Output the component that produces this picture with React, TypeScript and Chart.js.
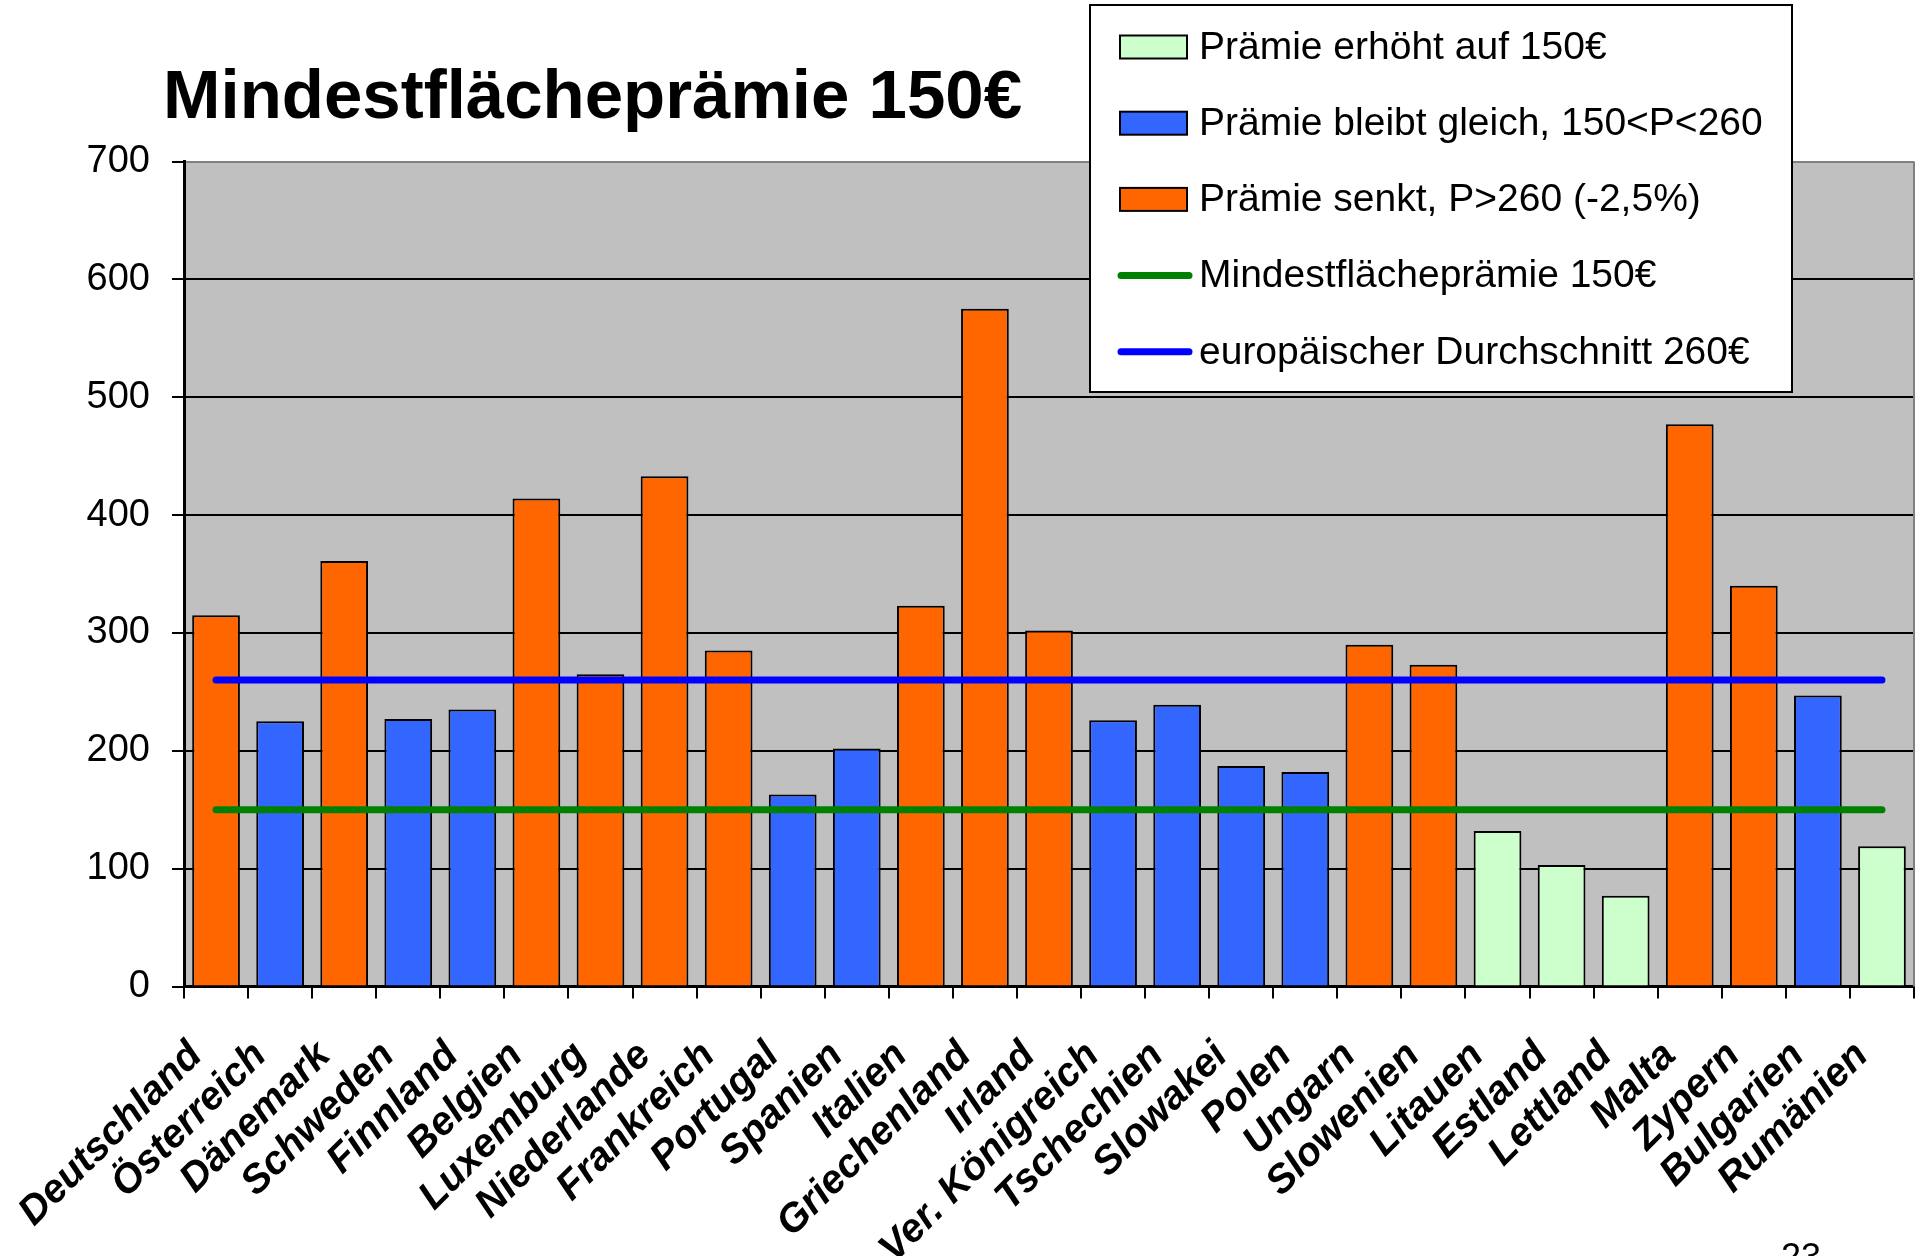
import { useEffect, useRef } from "react";
import { Chart, registerables } from "chart.js";

Chart.register(...registerables);

const TITLE = "Mindestflächeprämie 150€";
const PAGE_NUMBER = "23";

const COUNTRIES = [
  "Deutschland", "Österreich", "Dänemark", "Schweden", "Finnland", "Belgien",
  "Luxemburg", "Niederlande", "Frankreich", "Portugal", "Spanien", "Italien",
  "Griechenland", "Irland", "Ver. Königreich", "Tschechien", "Slowakei", "Polen",
  "Ungarn", "Slowenien", "Litauen", "Estland", "Lettland", "Malta", "Zypern",
  "Bulgarien", "Rumänien",
];

const PREMIUMS = [
  315, 225, 361, 227, 235, 414, 265, 433, 285, 163, 202, 323, 575, 302, 226,
  239, 187, 182, 290, 273, 132, 103, 77, 477, 340, 247, 119,
];

// 0 = Prämie erhöht, 1 = Prämie bleibt gleich, 2 = Prämie senkt
const GROUPS = [
  2, 1, 2, 1, 1, 2, 2, 2, 2, 1, 1, 2, 2, 2, 1, 1, 1, 1, 2, 2, 0, 0, 0, 2, 2, 1, 0,
];

const MIN_LINE = [
  150, 150, 150, 150, 150, 150, 150, 150, 150, 150, 150, 150, 150, 150, 150,
  150, 150, 150, 150, 150, 150, 150, 150, 150, 150, 150, 150,
];

const AVG_LINE = [
  260, 260, 260, 260, 260, 260, 260, 260, 260, 260, 260, 260, 260, 260, 260,
  260, 260, 260, 260, 260, 260, 260, 260, 260, 260, 260, 260,
];

const BAR_LABELS = [
  "Prämie erhöht auf 150€",
  "Prämie bleibt gleich, 150<P<260",
  "Prämie senkt, P>260 (-2,5%)",
];
const LINE_LABELS = ["Mindestflächeprämie 150€", "europäischer Durchschnitt 260€"];

const BAR_COLORS = ["#CCFFCC", "#3366FF", "#FF6600"];
const LINE_COLORS = ["#008000", "#0000FF"];

const Y_MIN = 0;
const Y_MAX = 700;
const Y_STEP = 100;

const FONT = "'Liberation Sans', Arial, Helvetica, sans-serif";

const decorPlugin = {
  id: "decor",
  beforeDraw(chart: any) {
    const { ctx, chartArea: a } = chart;
    ctx.save();
    ctx.fillStyle = "#FFFFFF";
    ctx.fillRect(0, 0, chart.width, chart.height);
    ctx.fillStyle = "#C0C0C0";
    ctx.fillRect(a.left, a.top, a.right - a.left, a.bottom - a.top);
    ctx.restore();
  },
  afterDraw(chart: any) {
    const { ctx, chartArea: a } = chart;
    ctx.save();
    // right border of plot
    ctx.strokeStyle = "#808080";
    ctx.lineWidth = 2;
    ctx.beginPath();
    ctx.moveTo(a.right, a.top);
    ctx.lineTo(a.right, a.bottom);
    ctx.stroke();

    // title
    ctx.fillStyle = "#000";
    ctx.font = `bold 69px ${FONT}`;
    ctx.textBaseline = "alphabetic";
    ctx.textAlign = "left";
    ctx.fillText(TITLE, 163, 118);

    // page number (cut off at the bottom edge)
    ctx.font = `36px ${FONT}`;
    ctx.fillText(PAGE_NUMBER, 1781, 1269);

    // legend box
    const bx = 1090, by = 5, bw = 702, bh = 387;
    ctx.fillStyle = "#FFFFFF";
    ctx.fillRect(bx, by, bw, bh);
    ctx.strokeStyle = "#000";
    ctx.lineWidth = 2;
    ctx.strokeRect(bx, by, bw, bh);

    const ds = chart.data.datasets;
    const rowY0 = 47;
    const rowStep = 76.2;
    ctx.font = `39px ${FONT}`;
    ctx.textBaseline = "middle";
    ds.forEach((d: any, i: number) => {
      const y = rowY0 + i * rowStep;
      if (d.type === "line") {
        ctx.strokeStyle = d.borderColor;
        ctx.lineWidth = 7;
        ctx.lineCap = "round";
        ctx.beginPath();
        ctx.moveTo(1121, y);
        ctx.lineTo(1189, y);
        ctx.stroke();
      } else {
        ctx.fillStyle = d.backgroundColor;
        ctx.fillRect(1120, y - 11.5, 67, 23);
        ctx.strokeStyle = "#000";
        ctx.lineWidth = 2;
        ctx.strokeRect(1120, y - 11.5, 67, 23);
      }
      ctx.fillStyle = "#000";
      ctx.fillText(d.label, 1199, y + 1);
    });
    ctx.restore();
  },
};

export default function App() {
  const ref = useRef<HTMLCanvasElement | null>(null);

  useEffect(() => {
    document.body.style.margin = "0";
    document.body.style.overflow = "hidden";
    const barSets = BAR_LABELS.map((label, g) => ({
      type: "bar" as const,
      label,
      data: PREMIUMS.map((v, i) => (GROUPS[i] === g ? v : null)),
      backgroundColor: BAR_COLORS[g],
      borderColor: "#000000",
      borderWidth: 2,
      grouped: false,
      barPercentage: 0.745,
      categoryPercentage: 1,
      order: 2,
    }));
    const lineSets = LINE_LABELS.map((label, k) => ({
      type: "line" as const,
      label,
      data: k === 0 ? MIN_LINE : AVG_LINE,
      borderColor: LINE_COLORS[k],
      backgroundColor: LINE_COLORS[k],
      borderWidth: 7,
      borderCapStyle: "round" as const,
      pointRadius: 0,
      fill: false,
      tension: 0,
      order: 1,
    }));

    const chart = new Chart(ref.current as HTMLCanvasElement, {
      data: {
        labels: COUNTRIES,
        datasets: [...barSets, ...lineSets] as any,
      },
      options: {
        animation: false,
        responsive: true,
        maintainAspectRatio: false,
        layout: { padding: { top: 161.5, right: 5, left: 0, bottom: 0 } },
        plugins: {
          legend: { display: false },
          tooltip: { enabled: false },
          title: { display: false },
        },
        scales: {
          x: {
            offset: true,
            grid: {
              display: true,
              drawOnChartArea: false,
              drawTicks: true,
              tickLength: 12,
              color: "#000",
              lineWidth: 2,
              offset: true,
            },
            border: { display: true, color: "#000", width: 3 },
            ticks: {
              autoSkip: false,
              maxRotation: 45,
              minRotation: 45,
              padding: 34,
              labelOffset: -20,
              color: "#000",
              font: { family: FONT, size: 40, weight: "bold", style: "italic" },
            },
            afterFit: (scale: any) => {
              scale.height = 269.5;
              scale.paddingLeft = 0;
              scale.paddingRight = 0;
            },
          },
          y: {
            min: Y_MIN,
            max: Y_MAX,
            ticks: {
              stepSize: Y_STEP,
              padding: 22,
              color: "#000",
              font: { family: FONT, size: 38 },
            },
            grid: {
              color: (c: any) => (c.tick && c.tick.value === Y_MAX ? "#808080" : "#000"),
              tickColor: "#000",
              lineWidth: 2,
              tickLength: 12,
            },
            border: { display: true, color: "#000", width: 3 },
            afterFit: (scale: any) => {
              scale.width = 184;
            },
          },
        },
      },
      plugins: [decorPlugin],
    });
    return () => chart.destroy();
  }, []);

  return (
    <div style={{ position: "absolute", left: 0, top: 0, width: 1919, height: 1256 }}>
      <canvas ref={ref} />
    </div>
  );
}
